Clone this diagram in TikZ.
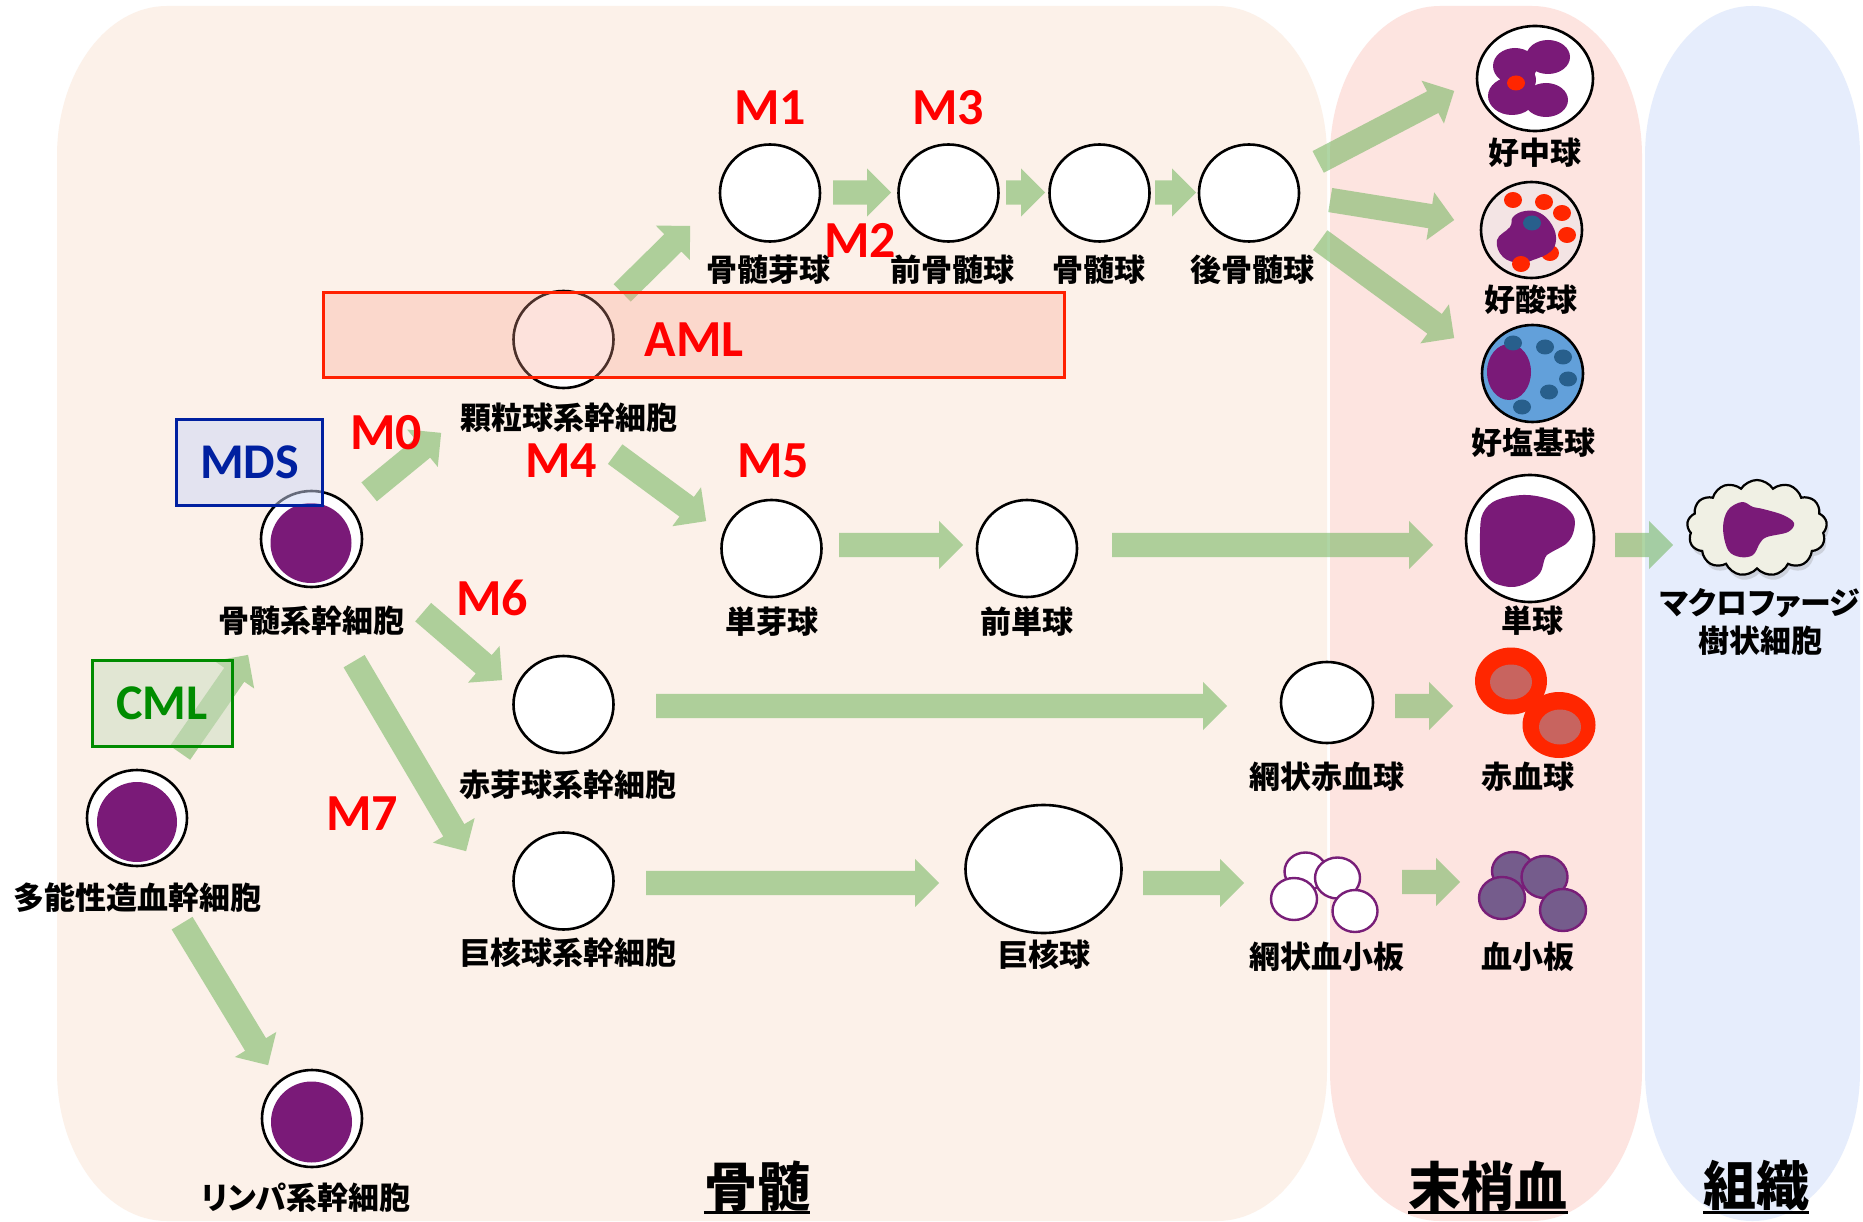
\documentclass[tikz,border=0pt]{standalone}
\usepackage{fontspec}
\setmainfont{Noto Sans CJK JP}[RawFeature={+palt}]
\newfontfamily\latinfont{Carlito}
\usetikzlibrary{calc,shapes.geometric,shapes.arrows,shapes.symbols,shadows}

\definecolor{bmbg}{RGB}{252,241,233}
\definecolor{pbbg}{RGB}{253,228,224}
\definecolor{tsbg}{RGB}{230,237,252}
\definecolor{agreen}{RGB}{110,180,90}
\definecolor{nuc}{RGB}{122,26,120}
\definecolor{mred}{RGB}{255,0,0}
\definecolor{rbcout}{RGB}{255,38,0}
\definecolor{rbcin}{RGB}{200,100,95}
\definecolor{pltfill}{RGB}{117,92,140}
\definecolor{pltedge}{RGB}{120,30,120}
\definecolor{basofill}{RGB}{98,160,218}
\definecolor{basogr}{RGB}{40,95,140}
\definecolor{eosfill}{RGB}{243,228,228}
\definecolor{mdsc}{RGB}{0,32,160}
\definecolor{mdsfill}{RGB}{204,215,247}
\definecolor{cmlc}{RGB}{0,140,0}
\definecolor{cmlfill}{RGB}{200,220,190}
\definecolor{amlc}{RGB}{255,32,0}
\definecolor{amlfill}{RGB}{250,160,140}
\definecolor{macrofill}{RGB}{240,240,228}

\tikzset{
  cell/.style={ellipse, draw=black, line width=2.6pt, fill=white, inner sep=0pt},
  lbl/.style={font=\fontsize{31}{36}\selectfont\bfseries, inner sep=0pt},
  mlab/.style={font=\latinfont\bfseries\fontsize{52}{60}\selectfont, text=mred, inner sep=0pt},
  ttl/.style={font=\fontsize{53}{60}\selectfont\bfseries, inner sep=0pt},
  barrow/.style={single arrow, draw=none, fill=agreen, fill opacity=0.55,
    inner sep=0pt, inner ysep=12pt, single arrow head extend=12pt,
    single arrow tip angle=90, single arrow head indent=0pt, anchor=tail},
  plate/.style={draw=pltedge, line width=2.4pt},
  diseasebox/.style={rectangle, line width=3pt, fill opacity=0.5, text opacity=1,
    font=\latinfont\bfseries\fontsize{50}{60}\selectfont},
}

% block arrow from one named point to another
\newcommand\flowarrow[2]{%
  \path let \p1=($(#2)-(#1)$), \n1={veclen(\x1,\y1)}, \n2={atan2(\y1,\x1)} in
    node[barrow, minimum height=\n1, rotate=\n2] at (#1) {};}

% background band with elliptic corners: x1,y1,x2,y2,rx,ry,colour
\newcommand\panel[7]{%
  \fill[#7] (#1,#2+#6) arc[start angle=180,end angle=270,x radius=#5,y radius=#6]
    -- (#3-#5,#2) arc[start angle=270,end angle=360,x radius=#5,y radius=#6]
    -- (#3,#4-#6) arc[start angle=0,end angle=90,x radius=#5,y radius=#6]
    -- (#1+#5,#4) arc[start angle=90,end angle=180,x radius=#5,y radius=#6] -- cycle;}

\begin{document}
\begin{tikzpicture}[x=1pt,y=-1pt]
\useasboundingbox (0,0) rectangle (1863,1222);
\fill[white] (0,0) rectangle (1863,1222);

% ---------- regions ----------
\panel{57}{6}{1327}{1221}{110}{150}{bmbg}
\panel{1330}{6}{1642}{1221}{110}{150}{pbbg}
\panel{1645}{6}{1860}{1221}{107}{150}{tsbg}

% ---------- arrow end points ----------
\coordinate (cmlS) at (180,753);   \coordinate (cmlE) at (248,655);
\coordinate (m0S) at (369,492);    \coordinate (m0E) at (441,433);
\coordinate (m6S) at (423,612);    \coordinate (m6E) at (502,680);
\coordinate (m7S) at (354,661);    \coordinate (m7E) at (466,851);
\coordinate (lyS) at (182,923);    \coordinate (lyE) at (268,1065);
\coordinate (grS) at (622,293);    \coordinate (grE) at (690,226);
\coordinate (m4S) at (615,454);    \coordinate (m4E) at (706,521);
\coordinate (t1S) at (833,192.5);  \coordinate (t1E) at (891,192.5);
\coordinate (t2S) at (1006,192.5); \coordinate (t2E) at (1045,192.5);
\coordinate (t3S) at (1155,192.5); \coordinate (t3E) at (1196,192.5);
\coordinate (f1S) at (1318,162);   \coordinate (f1E) at (1454,91);
\coordinate (f2S) at (1330,200);   \coordinate (f2E) at (1454,220);
\coordinate (f3S) at (1320,240);   \coordinate (f3E) at (1454,338);
\coordinate (o1S) at (839,545);    \coordinate (o1E) at (963,545);
\coordinate (o2S) at (1112,545);   \coordinate (o2E) at (1433,545);
\coordinate (o3S) at (1615,545);   \coordinate (o3E) at (1673,545);
\coordinate (e1S) at (656,706);    \coordinate (e1E) at (1227,706);
\coordinate (e2S) at (1395,706);   \coordinate (e2E) at (1453,706);
\coordinate (k1S) at (646,883);    \coordinate (k1E) at (939,883);
\coordinate (k2S) at (1143,883);   \coordinate (k2E) at (1244,883);
\coordinate (k3S) at (1402,882);   \coordinate (k3E) at (1460,882);

% ---------- arrows ----------
\flowarrow{cmlS}{cmlE}
\flowarrow{m0S}{m0E}
\flowarrow{m6S}{m6E}
\flowarrow{m7S}{m7E}
\flowarrow{lyS}{lyE}
\flowarrow{grS}{grE}
\flowarrow{m4S}{m4E}
\flowarrow{t1S}{t1E}
\flowarrow{t2S}{t2E}
\flowarrow{t3S}{t3E}
\flowarrow{f1S}{f1E}
\flowarrow{f2S}{f2E}
\flowarrow{f3S}{f3E}
\flowarrow{o1S}{o1E}
\flowarrow{o2S}{o2E}
\flowarrow{o3S}{o3E}
\flowarrow{e1S}{e1E}
\flowarrow{e2S}{e2E}
\flowarrow{k1S}{k1E}
\flowarrow{k2S}{k2E}
\flowarrow{k3S}{k3E}

% ---------- stem cells ----------
\node[cell, minimum width=100, minimum height=96] (hsc) at (137,818) {};
\fill[nuc] (137,822) ellipse[x radius=40,y radius=40];
\node[cell, minimum width=101, minimum height=96] (mys) at (311.5,539) {};
\fill[nuc] (311,543) ellipse[x radius=40.5,y radius=40];
\node[cell, minimum width=100, minimum height=97] (lym) at (312,1118.5) {};
\fill[nuc] (311.5,1122) ellipse[x radius=40.5,y radius=40.5];

% ---------- granulocyte line ----------
\node[cell, minimum width=100, minimum height=97] (gran) at (563.5,339.5) {};
\node[cell, minimum width=100, minimum height=97] (mb) at (770,193) {};
\node[cell, minimum width=100, minimum height=97] (pro) at (948.5,193) {};
\node[cell, minimum width=100, minimum height=97] (my) at (1099.5,193) {};
\node[cell, minimum width=100, minimum height=97] (meta) at (1249,193) {};

% neutrophil
\node[cell, minimum width=116, minimum height=105] (neu) at (1535,78.5) {};
\fill[nuc] (1515,66) ellipse[x radius=22,y radius=18];
\fill[nuc] (1548,57) ellipse[x radius=22,y radius=17];
\fill[nuc] (1512,96) ellipse[x radius=24,y radius=19];
\fill[nuc] (1546,100) ellipse[x radius=22,y radius=17];
\fill[nuc] (1518,80) ellipse[x radius=18,y radius=16];
\fill[rbcout] (1516,83) ellipse[x radius=9,y radius=7.5];

% eosinophil
\node[cell, fill=eosfill, minimum width=101, minimum height=96] (eos) at (1531.5,230) {};
\fill[rbcout] (1550,253) ellipse[x radius=9,y radius=8];
\fill[nuc] plot[smooth cycle, tension=0.7] coordinates {(1497,240) (1510,227) (1513,217)
  (1525,211) (1540,213) (1552,225) (1556,240) (1550,252) (1533,260) (1520,263) (1503,257)};
\fill[basogr] (1532,223) ellipse[x radius=9,y radius=7.5];
\foreach \gx/\gy in {1513/200,1544/202,1562/213,1567/235,1521/264}
  \fill[rbcout] (\gx,\gy) ellipse[x radius=9,y radius=8];

% basophil
\node[cell, fill=basofill, minimum width=101, minimum height=97] (baso) at (1532.5,373.5) {};
\fill[nuc] (1509,372) ellipse[x radius=22,y radius=28];
\foreach \gx/\gy in {1513/343,1545/347,1563/357,1568/379,1549/392,1522/407}
  \fill[basogr] (\gx,\gy) ellipse[x radius=9,y radius=7.5];

% ---------- monocyte line ----------
\node[cell, minimum width=100, minimum height=97] (monob) at (771.5,548.5) {};
\node[cell, minimum width=100, minimum height=97] (promo) at (1027,548.5) {};
\node[cell, minimum width=128, minimum height=127] (mono) at (1530,538.5) {};
\fill[nuc] plot[smooth cycle, tension=0.6] coordinates {(1483,513) (1497,500) (1527,495)
  (1557,502) (1573,515) (1574,530) (1567,543) (1550,553) (1545,558) (1540,573) (1527,583)
  (1510,587) (1490,580) (1481,560) (1480,533)};

% macrophage / dendritic cell
\node[cloud, cloud puffs=13, cloud puff arc=115, aspect=1.45, draw=black, line width=2.2pt,
  fill=macrofill, minimum width=140, minimum height=96,
  drop shadow={shadow xshift=2pt, shadow yshift=-5pt, opacity=0.25}] (mac) at (1757,528) {};
\fill[nuc] plot[smooth cycle, tension=0.6] coordinates {(1723,528) (1728,510) (1742,502)
  (1753,507) (1763,509) (1783,515) (1794,523) (1788,532) (1767,537) (1760,543) (1753,555)
  (1740,557) (1728,550)};

% ---------- erythroid line ----------
\node[cell, minimum width=100, minimum height=97] (ery) at (563.5,704.5) {};
\node[cell, minimum width=92, minimum height=81] (ret) at (1327,702.5) {};
\coordinate (rbc) at (1535,703);
\fill[rbcout] (1511,681) ellipse[x radius=36,y radius=33.5];
\fill[rbcin] (1511,682) ellipse[x radius=21,y radius=17.5];
\fill[rbcout] (1559,725) ellipse[x radius=36.5,y radius=33];
\fill[rbcin] (1560,727) ellipse[x radius=21,y radius=17.5];

% ---------- megakaryocyte line ----------
\node[cell, minimum width=100, minimum height=97] (megs) at (563.5,881) {};
\node[cell, minimum width=156, minimum height=128] (mk) at (1043.5,869) {};
\foreach \px/\py/\rx/\ry in {1305.5/871.5/21/19,1337.5/878/22.5/20.5,1294/899/23/21,1355/911/22.5/21}
  \filldraw[plate, fill=white] (\px,\py) ellipse[x radius=\rx,y radius=\ry];
\foreach \px/\py/\rx/\ry in {1513/871/21/19,1544.5/877/23/21,1502/898/23/21,1563/910/23/21}
  \filldraw[plate, fill=pltfill] (\px,\py) ellipse[x radius=\rx,y radius=\ry];

% ---------- disease ranges ----------
\node[diseasebox, draw=mdsc, fill=mdsfill, text=mdsc, minimum width=146, minimum height=86] (mds) at (249.5,462) {MDS};
\node[diseasebox, draw=cmlc, fill=cmlfill, text=cmlc, minimum width=140, minimum height=86] (cml) at (162,703) {CML};
\node[diseasebox, draw=amlc, fill=amlfill, fill opacity=0.3, minimum width=741, minimum height=85,
  font=\latinfont\bfseries\fontsize{52}{60}\selectfont] (amlbox) at (693.5,335.5) {};
\node[mlab] (aml) at (694,340) {AML};

% ---------- FAB subtypes ----------
\node[mlab] (m0) at (386,433) {M0};
\node[mlab] (m1) at (770,108) {M1};
\node[mlab] (m2) at (860,240) {M2};
\node[mlab] (m3) at (948,108) {M3};
\node[mlab] (m4) at (561,461) {M4};
\node[mlab] (m5) at (773,461) {M5};
\node[mlab] (m6) at (492,598) {M6};
\node[mlab] (m7) at (362,814) {M7};

% ---------- cell names ----------
\node[lbl] (t-hsc) at (137,898) {多能性造血幹細胞};
\node[lbl] (t-mys) at (311,621) {骨髄系幹細胞};
\node[lbl] (t-lym) at (306,1198) {リンパ系幹細胞};
\node[lbl] (t-gran) at (569,418) {顆粒球系幹細胞};
\node[lbl] (t-mb) at (768,270) {骨髄芽球};
\node[lbl] (t-pro) at (952,270) {前骨髄球};
\node[lbl] (t-my) at (1099,270) {骨髄球};
\node[lbl] (t-meta) at (1252,270) {後骨髄球};
\node[lbl] (t-neu) at (1535,153) {好中球};
\node[lbl] (t-eos) at (1531,300) {好酸球};
\node[lbl] (t-baso) at (1533,443) {好塩基球};
\node[lbl] (t-monob) at (772,622) {単芽球};
\node[lbl] (t-promo) at (1027,622) {前単球};
\node[lbl] (t-mono) at (1532,621) {単球};
\node[lbl] (t-mac1) at (1760,603) {マクロファージ};
\node[lbl] (t-mac2) at (1760,641) {樹状細胞};
\node[lbl] (t-ery) at (568,785) {赤芽球系幹細胞};
\node[lbl] (t-ret) at (1327,777) {網状赤血球};
\node[lbl] (t-rbc) at (1528,777) {赤血球};
\node[lbl] (t-megs) at (568,953) {巨核球系幹細胞};
\node[lbl] (t-mk) at (1044,955) {巨核球};
\node[lbl] (t-rplt) at (1327,957) {網状血小板};
\node[lbl] (t-plt) at (1528,957) {血小板};

% ---------- region titles ----------
\coordinate (uline) at (0,1212);
\node[ttl] (bm) at (757,1186) {骨髄};
\node[ttl] (pb) at (1488,1186) {末梢血};
\node[ttl] (ts) at (1756,1186) {組織};
\foreach \t in {bm,pb,ts}
  \draw[line width=3pt] (\t.west |- uline) -- (\t.east |- uline);

\end{tikzpicture}
\end{document}
